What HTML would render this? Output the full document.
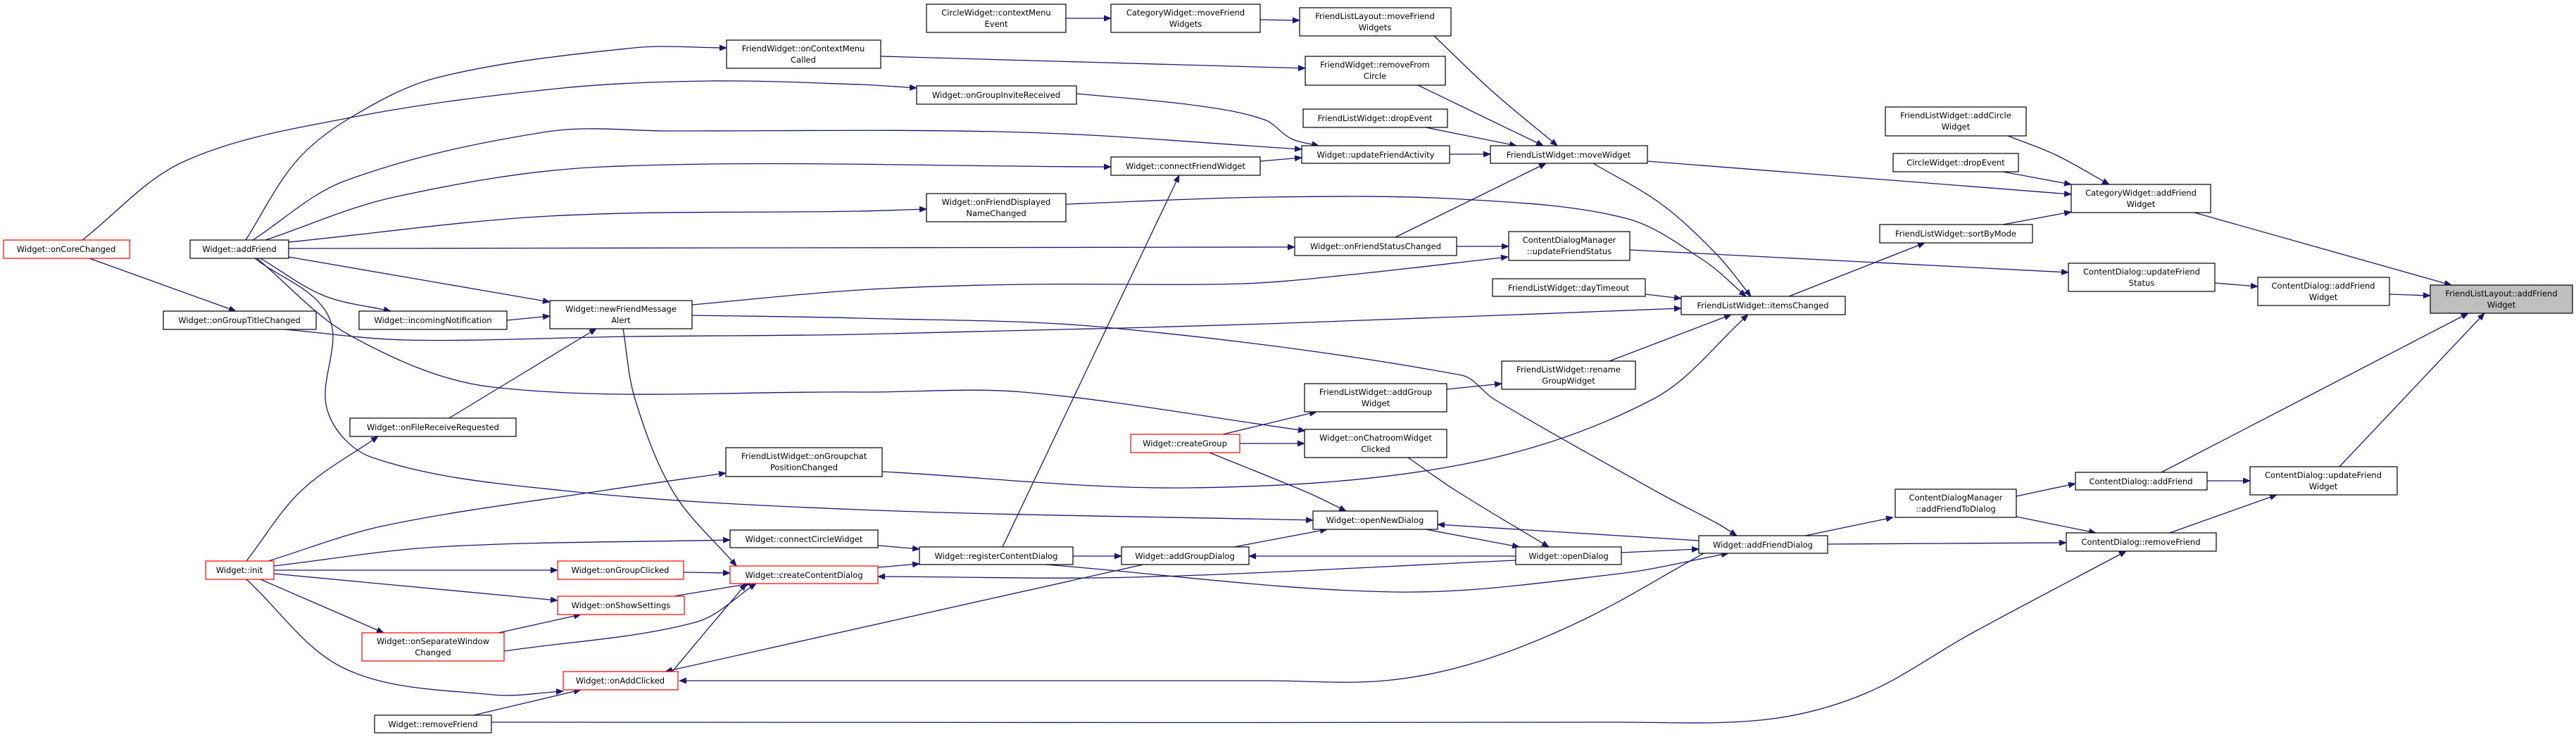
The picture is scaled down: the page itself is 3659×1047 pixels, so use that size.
<!DOCTYPE html>
<html><head><meta charset="utf-8">
<style>
html,body{margin:0;padding:0;background:#fff;}
svg{display:block;}
text{font-family:"DejaVu Sans","Liberation Sans",sans-serif;font-size:11.5px;fill:#000;}
</style></head>
<body>
<svg id="g" xmlns="http://www.w3.org/2000/svg" width="3659" height="1047" viewBox="0 0 3659 1047">
<defs>
<marker id="ah" markerUnits="userSpaceOnUse" markerWidth="11" markerHeight="9" refX="10" refY="4.5" orient="auto">
<path d="M0,0 L11,4.5 L0,9 z" fill="#191970"/>
</marker>
</defs>
<g id="edges" fill="none" stroke="#191970" stroke-width="1.3"></g>
<g id="nodes" stroke-width="1.2">
<rect x="1316" y="6" width="198" height="40" fill="#fff" stroke="#000"/><text x="1415" y="22" text-anchor="middle">CircleWidget::contextMenu</text><text x="1415" y="38" text-anchor="middle">Event</text>
<rect x="1578" y="6" width="212" height="40" fill="#fff" stroke="#000"/><text x="1684" y="22" text-anchor="middle">CategoryWidget::moveFriend</text><text x="1684" y="38" text-anchor="middle">Widgets</text>
<rect x="1846" y="11" width="215" height="40" fill="#fff" stroke="#000"/><text x="1953" y="27" text-anchor="middle">FriendListLayout::moveFriend</text><text x="1953" y="43" text-anchor="middle">Widgets</text>
<rect x="1032" y="57" width="219" height="40" fill="#fff" stroke="#000"/><text x="1141" y="73" text-anchor="middle">FriendWidget::onContextMenu</text><text x="1141" y="89" text-anchor="middle">Called</text>
<rect x="1854" y="80" width="199" height="41" fill="#fff" stroke="#000"/><text x="1953" y="96" text-anchor="middle">FriendWidget::removeFrom</text><text x="1953" y="112" text-anchor="middle">Circle</text>
<rect x="1302" y="122" width="227" height="26" fill="#fff" stroke="#000"/><text x="1415" y="139" text-anchor="middle">Widget::onGroupInviteReceived</text>
<rect x="1851" y="155" width="205" height="26" fill="#fff" stroke="#000"/><text x="1953" y="172" text-anchor="middle">FriendListWidget::dropEvent</text>
<rect x="1849" y="207" width="210" height="25" fill="#fff" stroke="#000"/><text x="1954" y="224" text-anchor="middle">Widget::updateFriendActivity</text>
<rect x="2117" y="207" width="223" height="25" fill="#fff" stroke="#000"/><text x="2228" y="224" text-anchor="middle">FriendListWidget::moveWidget</text>
<rect x="1578" y="223" width="212" height="26" fill="#fff" stroke="#000"/><text x="1684" y="240" text-anchor="middle">Widget::connectFriendWidget</text>
<rect x="1316" y="275" width="198" height="40" fill="#fff" stroke="#000"/><text x="1415" y="291" text-anchor="middle">Widget::onFriendDisplayed</text><text x="1415" y="307" text-anchor="middle">NameChanged</text>
<rect x="1839" y="337" width="230" height="26" fill="#fff" stroke="#000"/><text x="1954" y="354" text-anchor="middle">Widget::onFriendStatusChanged</text>
<rect x="2143" y="329" width="172" height="41" fill="#fff" stroke="#000"/><text x="2229" y="345" text-anchor="middle">ContentDialogManager</text><text x="2229" y="361" text-anchor="middle">::updateFriendStatus</text>
<rect x="5" y="341" width="179" height="26" fill="#fff" stroke="#f00"/><text x="94" y="358" text-anchor="middle">Widget::onCoreChanged</text>
<rect x="270" y="341" width="140" height="26" fill="#fff" stroke="#000"/><text x="340" y="358" text-anchor="middle">Widget::addFriend</text>
<rect x="2678" y="152" width="200" height="41" fill="#fff" stroke="#000"/><text x="2778" y="168" text-anchor="middle">FriendListWidget::addCircle</text><text x="2778" y="184" text-anchor="middle">Widget</text>
<rect x="2689" y="218" width="178" height="26" fill="#fff" stroke="#000"/><text x="2778" y="235" text-anchor="middle">CircleWidget::dropEvent</text>
<rect x="2942" y="262" width="198" height="40" fill="#fff" stroke="#000"/><text x="3041" y="278" text-anchor="middle">CategoryWidget::addFriend</text><text x="3041" y="294" text-anchor="middle">Widget</text>
<rect x="2670" y="319" width="217" height="26" fill="#fff" stroke="#000"/><text x="2778" y="336" text-anchor="middle">FriendListWidget::sortByMode</text>
<rect x="232" y="442" width="217" height="26" fill="#fff" stroke="#000"/><text x="340" y="459" text-anchor="middle">Widget::onGroupTitleChanged</text>
<rect x="510" y="442" width="210" height="26" fill="#fff" stroke="#000"/><text x="615" y="459" text-anchor="middle">Widget::incomingNotification</text>
<rect x="781" y="427" width="202" height="40" fill="#fff" stroke="#000"/><text x="882" y="443" text-anchor="middle">Widget::newFriendMessage</text><text x="882" y="459" text-anchor="middle">Alert</text>
<rect x="497" y="594" width="236" height="26" fill="#fff" stroke="#000"/><text x="615" y="611" text-anchor="middle">Widget::onFileReceiveRequested</text>
<rect x="1031" y="636" width="222" height="41" fill="#fff" stroke="#000"/><text x="1142" y="652" text-anchor="middle">FriendListWidget::onGroupchat</text><text x="1142" y="668" text-anchor="middle">PositionChanged</text>
<rect x="2120" y="396" width="217" height="25" fill="#fff" stroke="#000"/><text x="2228" y="413" text-anchor="middle">FriendListWidget::dayTimeout</text>
<rect x="2388" y="421" width="233" height="26" fill="#fff" stroke="#000"/><text x="2504" y="438" text-anchor="middle">FriendListWidget::itemsChanged</text>
<rect x="2133" y="513" width="190" height="40" fill="#fff" stroke="#000"/><text x="2228" y="529" text-anchor="middle">FriendListWidget::rename</text><text x="2228" y="545" text-anchor="middle">GroupWidget</text>
<rect x="1853" y="545" width="202" height="40" fill="#fff" stroke="#000"/><text x="1954" y="561" text-anchor="middle">FriendListWidget::addGroup</text><text x="1954" y="577" text-anchor="middle">Widget</text>
<rect x="1606" y="617" width="155" height="26" fill="#fff" stroke="#f00"/><text x="1683" y="634" text-anchor="middle">Widget::createGroup</text>
<rect x="1853" y="610" width="202" height="40" fill="#fff" stroke="#000"/><text x="1954" y="626" text-anchor="middle">Widget::onChatroomWidget</text><text x="1954" y="642" text-anchor="middle">Clicked</text>
<rect x="2938" y="374" width="208" height="40" fill="#fff" stroke="#000"/><text x="3042" y="390" text-anchor="middle">ContentDialog::updateFriend</text><text x="3042" y="406" text-anchor="middle">Status</text>
<rect x="3207" y="394" width="187" height="40" fill="#fff" stroke="#000"/><text x="3300" y="410" text-anchor="middle">ContentDialog::addFriend</text><text x="3300" y="426" text-anchor="middle">Widget</text>
<rect x="3452" y="405" width="202" height="40" fill="#bfbfbf" stroke="#000"/><text x="3553" y="421" text-anchor="middle">FriendListLayout::addFriend</text><text x="3553" y="437" text-anchor="middle">Widget</text>
<rect x="2948" y="671" width="187" height="25" fill="#fff" stroke="#000"/><text x="3041" y="688" text-anchor="middle">ContentDialog::addFriend</text>
<rect x="3196" y="663" width="209" height="40" fill="#fff" stroke="#000"/><text x="3300" y="679" text-anchor="middle">ContentDialog::updateFriend</text><text x="3300" y="695" text-anchor="middle">Widget</text>
<rect x="292" y="797" width="97" height="26" fill="#fff" stroke="#f00"/><text x="340" y="814" text-anchor="middle">Widget::init</text>
<rect x="792" y="797" width="179" height="26" fill="#fff" stroke="#f00"/><text x="881" y="814" text-anchor="middle">Widget::onGroupClicked</text>
<rect x="792" y="847" width="180" height="26" fill="#fff" stroke="#f00"/><text x="882" y="864" text-anchor="middle">Widget::onShowSettings</text>
<rect x="514" y="899" width="202" height="40" fill="#fff" stroke="#f00"/><text x="615" y="915" text-anchor="middle">Widget::onSeparateWindow</text><text x="615" y="931" text-anchor="middle">Changed</text>
<rect x="800" y="954" width="163" height="26" fill="#fff" stroke="#f00"/><text x="881" y="971" text-anchor="middle">Widget::onAddClicked</text>
<rect x="532" y="1016" width="166" height="25" fill="#fff" stroke="#000"/><text x="615" y="1033" text-anchor="middle">Widget::removeFriend</text>
<rect x="1037" y="753" width="210" height="25" fill="#fff" stroke="#000"/><text x="1142" y="770" text-anchor="middle">Widget::connectCircleWidget</text>
<rect x="1037" y="804" width="210" height="25" fill="#fff" stroke="#f00"/><text x="1142" y="821" text-anchor="middle">Widget::createContentDialog</text>
<rect x="1865" y="726" width="177" height="26" fill="#fff" stroke="#000"/><text x="1953" y="743" text-anchor="middle">Widget::openNewDialog</text>
<rect x="1306" y="777" width="218" height="25" fill="#fff" stroke="#000"/><text x="1415" y="794" text-anchor="middle">Widget::registerContentDialog</text>
<rect x="1593" y="777" width="181" height="25" fill="#fff" stroke="#000"/><text x="1683" y="794" text-anchor="middle">Widget::addGroupDialog</text>
<rect x="2153" y="777" width="150" height="25" fill="#fff" stroke="#000"/><text x="2228" y="794" text-anchor="middle">Widget::openDialog</text>
<rect x="2413" y="761" width="183" height="25" fill="#fff" stroke="#000"/><text x="2504" y="778" text-anchor="middle">Widget::addFriendDialog</text>
<rect x="2692" y="695" width="172" height="40" fill="#fff" stroke="#000"/><text x="2778" y="711" text-anchor="middle">ContentDialogManager</text><text x="2778" y="727" text-anchor="middle">::addFriendToDialog</text>
<rect x="2935" y="757" width="213" height="26" fill="#fff" stroke="#000"/><text x="3041" y="774" text-anchor="middle">ContentDialog::removeFriend</text>
</g>
</svg>
<script>
var E=[
[[1514,26],[1578,26]],
[[1790,28],[1846,29]],
[[1251,80],[1854,97]],
[[117,341],[260,230],[498,167],[800,125],[1011,115],[1220,120],[1302,125]],
[[349,341],[420,230],[498,167],[622,110],[900,68],[1032,68]],
[[127,367],[335,442]],
[[1529,133],[1700,150],[1796,170],[1834,197],[1873,207]],
[[359,341],[490,257],[778,187],[949,186],[1453,188],[1849,212]],
[[377,341],[560,280],[856,237],[1578,237]],
[[1790,229],[1849,224]],
[[2059,219],[2117,219]],
[[410,344],[780,307],[1220,300],[1316,297]],
[[410,353],[1839,351]],
[[2069,350],[2143,350]],
[[1982,337],[2196,232]],
[[2037,51],[2120,130],[2212,207]],
[[2014,121],[2192,207]],
[[2025,181],[2154,207]],
[[2340,229],[2942,276]],
[[2852,193],[2920,220],[2996,262]],
[[2845,244],[2942,262]],
[[2845,319],[2942,301]],
[[3117,302],[3482,405]],
[[2263,232],[2360,290],[2440,363],[2487,421]],
[[1514,290],[1800,280],[2076,283],[2309,310],[2420,370],[2480,421]],
[[405,468],[576,483],[900,478],[1220,475],[1800,460],[2388,438]],
[[983,433],[1220,412],[1453,404],[1765,403],[1920,390],[2142,365]],
[[983,448],[1220,452],[1570,465],[2076,533],[2122,567],[2356,700],[2440,744],[2467,761]],
[[885,467],[902,567],[957,700],[1046,804]],
[[638,594],[847,467]],
[[720,455],[781,449]],
[[410,365],[781,429]],
[[370,367],[460,420],[555,442]],
[[365,367],[498,477],[700,550],[1220,557],[1453,557],[1854,612]],
[[362,367],[467,450],[465,583],[529,650],[800,697],[1220,724],[1865,739]],
[[350,797],[428,697],[537,620]],
[[381,797],[545,747],[856,697],[1031,672]],
[[389,804],[622,777],[1037,767]],
[[389,810],[792,810]],
[[389,815],[792,853]],
[[370,823],[545,899]],
[[350,823],[490,950],[700,987],[800,982]],
[[971,813],[1037,814]],
[[957,847],[1066,829]],
[[708,899],[825,873]],
[[716,925],[988,884],[1074,829]],
[[955,954],[1000,900],[1060,829]],
[[1624,802],[945,954]],
[[2420,786],[2250,880],[2100,940],[1967,967],[1800,967],[965,967]],
[[673,1016],[825,980]],
[[698,1026],[2300,1026],[2510,1022],[2650,985],[2800,900],[3020,783]],
[[1247,775],[1306,780]],
[[1247,806],[1306,801]],
[[1424,777],[1675,249]],
[[1524,790],[1593,790]],
[[1485,802],[1982,841],[2300,815],[2455,786]],
[[1753,777],[1885,752]],
[[2153,790],[1774,790]],
[[2153,796],[1609,820],[1247,819]],
[[2025,752],[2158,777]],
[[2413,768],[2042,745]],
[[2303,785],[2413,780]],
[[2000,650],[2068,697],[2200,777]],
[[1718,643],[1858,700],[1912,726]],
[[1737,617],[1870,585]],
[[1761,630],[1853,630]],
[[2055,553],[2133,545]],
[[2286,513],[2459,447]],
[[1253,670],[1687,693],[2076,660],[2348,567],[2483,447]],
[[2337,418],[2388,424]],
[[2315,355],[2938,387]],
[[2541,421],[2734,345]],
[[3146,402],[3207,407]],
[[3394,418],[3452,420]],
[[3070,671],[3506,445]],
[[3323,663],[3529,445]],
[[3135,683],[3196,683]],
[[3082,757],[3234,703]],
[[2864,705],[2948,687]],
[[2864,734],[2977,757]],
[[2564,761],[2689,735]],
[[2596,773],[2935,771]]
];
function tan(p,i){
  var a=p[i-1]||p[i],b=p[i+1]||p[i];
  var dx=b[0]-a[0],dy=b[1]-a[1],l=Math.sqrt(dx*dx+dy*dy)||1;
  return [dx/l,dy/l];
}
var g=document.getElementById('edges');
E.forEach(function(p){
  var d='M'+p[0][0]+','+p[0][1];
  for(var i=0;i<p.length-1;i++){
    var p1=p[i],p2=p[i+1];
    var sx=p2[0]-p1[0],sy=p2[1]-p1[1],L=Math.sqrt(sx*sx+sy*sy)/3;
    var t1=tan(p,i),t2=tan(p,i+1);
    var c1x=p1[0]+t1[0]*L,c1y=p1[1]+t1[1]*L;
    var c2x=p2[0]-t2[0]*L,c2y=p2[1]-t2[1]*L;
    d+=' C'+c1x.toFixed(1)+','+c1y.toFixed(1)+' '+c2x.toFixed(1)+','+c2y.toFixed(1)+' '+p2[0]+','+p2[1];
  }
  var e=document.createElementNS('http://www.w3.org/2000/svg','path');
  e.setAttribute('d',d);
  e.setAttribute('marker-end','url(#ah)');
  g.appendChild(e);
});
</script>
</body></html>
